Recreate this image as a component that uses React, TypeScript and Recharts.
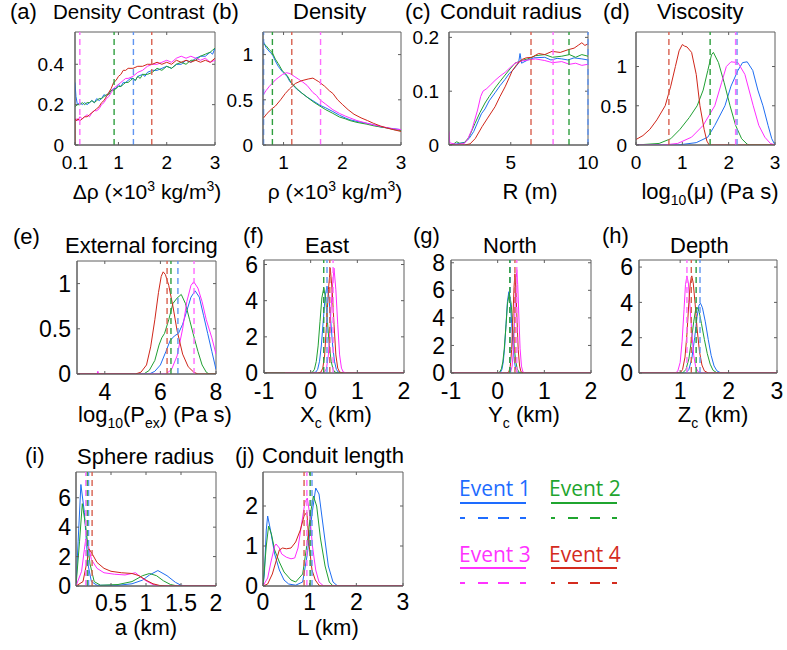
import React from 'react';
import { LineChart, Line, XAxis, YAxis, ReferenceLine, ReferenceArea } from 'recharts';

type Pt = [number, number];

// ---------- (a) Density contrast ----------
const densContrastBlue: Pt[] = [[0.1,0.31],[0.12,0.24],[0.15,0.2],[0.2,0.21],[0.25,0.2],[0.3,0.21],[0.35,0.2],[0.4,0.21],[0.45,0.22],[0.5,0.21],[0.55,0.23],[0.6,0.22],[0.65,0.23],[0.7,0.25],[0.75,0.24],[0.8,0.26],[0.85,0.27],[0.9,0.28],[0.95,0.28],[1.0,0.3],[1.05,0.29],[1.1,0.31],[1.15,0.31],[1.2,0.32],[1.25,0.33],[1.3,0.33],[1.35,0.32],[1.4,0.34],[1.5,0.35],[1.55,0.34],[1.6,0.36],[1.7,0.37],[1.8,0.37],[1.9,0.38],[2.0,0.39],[2.1,0.38],[2.2,0.4],[2.3,0.4],[2.4,0.42],[2.5,0.41],[2.6,0.43],[2.7,0.44],[2.8,0.44],[2.9,0.46],[2.95,0.45],[3.0,0.48]];
const densContrastGreen: Pt[] = [[0.1,0.19],[0.15,0.2],[0.2,0.2],[0.25,0.21],[0.3,0.2],[0.35,0.21],[0.4,0.21],[0.45,0.22],[0.5,0.21],[0.55,0.22],[0.6,0.23],[0.65,0.23],[0.7,0.24],[0.75,0.25],[0.8,0.25],[0.85,0.27],[0.9,0.27],[0.95,0.28],[1.0,0.29],[1.05,0.29],[1.1,0.3],[1.15,0.31],[1.2,0.31],[1.25,0.32],[1.3,0.33],[1.35,0.32],[1.4,0.34],[1.45,0.33],[1.5,0.35],[1.6,0.35],[1.7,0.36],[1.8,0.38],[1.9,0.37],[2.0,0.39],[2.1,0.38],[2.2,0.4],[2.3,0.41],[2.4,0.4],[2.5,0.42],[2.6,0.42],[2.7,0.44],[2.8,0.45],[2.9,0.46],[2.95,0.47],[3.0,0.48]];
const densContrastMagenta: Pt[] = [[0.1,0.12],[0.13,0.13],[0.16,0.12],[0.2,0.14],[0.25,0.13],[0.3,0.14],[0.35,0.15],[0.4,0.14],[0.45,0.16],[0.5,0.17],[0.55,0.17],[0.6,0.18],[0.65,0.2],[0.7,0.21],[0.75,0.23],[0.8,0.24],[0.85,0.26],[0.9,0.28],[0.95,0.29],[1.0,0.3],[1.05,0.31],[1.1,0.32],[1.15,0.33],[1.2,0.33],[1.3,0.34],[1.4,0.36],[1.5,0.37],[1.6,0.39],[1.7,0.4],[1.8,0.4],[1.9,0.41],[2.0,0.42],[2.1,0.41],[2.2,0.43],[2.3,0.44],[2.4,0.43],[2.5,0.44],[2.6,0.43],[2.7,0.42],[2.8,0.43],[2.9,0.41],[3.0,0.42]];
const densContrastRed: Pt[] = [[0.1,0.0],[0.1,0.13],[0.13,0.12],[0.16,0.13],[0.2,0.12],[0.25,0.13],[0.3,0.14],[0.35,0.14],[0.4,0.15],[0.45,0.16],[0.5,0.17],[0.55,0.18],[0.6,0.19],[0.65,0.21],[0.7,0.22],[0.75,0.24],[0.8,0.26],[0.85,0.28],[0.9,0.31],[0.95,0.32],[1.0,0.34],[1.05,0.35],[1.1,0.37],[1.15,0.37],[1.2,0.38],[1.3,0.38],[1.4,0.39],[1.5,0.39],[1.6,0.4],[1.7,0.4],[1.8,0.41],[1.9,0.4],[2.0,0.41],[2.1,0.4],[2.2,0.42],[2.3,0.41],[2.4,0.42],[2.5,0.41],[2.6,0.42],[2.7,0.41],[2.8,0.42],[2.9,0.41],[3.0,0.43]];
const densContrastRefs = [1.31, 0.91, 0.2, 1.69]; // blue, green, magenta, red

// ---------- (b) Density ----------
const densityBlue: Pt[] = [[0.66,1.14],[0.7,1.08],[0.75,1.04],[0.81,1.0],[0.86,0.93],[0.91,0.87],[0.98,0.81],[1.06,0.76],[1.1,0.71],[1.15,0.67],[1.22,0.62],[1.3,0.58],[1.4,0.53],[1.5,0.49],[1.62,0.44],[1.72,0.41],[1.84,0.37],[1.95,0.33],[2.05,0.3],[2.13,0.28],[2.25,0.26],[2.42,0.24],[2.55,0.22],[2.65,0.2],[2.75,0.19],[2.88,0.18],[3.0,0.17]];
const densityGreen: Pt[] = [[0.66,1.12],[0.7,1.1],[0.75,1.06],[0.81,1.02],[0.86,0.95],[0.91,0.9],[0.98,0.82],[1.06,0.77],[1.12,0.7],[1.2,0.64],[1.3,0.58],[1.4,0.53],[1.5,0.48],[1.62,0.43],[1.72,0.39],[1.84,0.35],[1.95,0.31],[2.05,0.29],[2.13,0.27],[2.25,0.25],[2.42,0.23],[2.55,0.21],[2.65,0.2],[2.75,0.19],[2.88,0.17],[3.0,0.16]];
const densityMagenta: Pt[] = [[0.66,0.56],[0.7,0.6],[0.76,0.65],[0.82,0.69],[0.86,0.72],[0.92,0.75],[0.98,0.78],[1.05,0.8],[1.11,0.79],[1.18,0.76],[1.25,0.73],[1.32,0.7],[1.4,0.66],[1.5,0.58],[1.56,0.55],[1.62,0.5],[1.72,0.45],[1.84,0.39],[1.95,0.35],[2.05,0.32],[2.13,0.3],[2.25,0.27],[2.42,0.24],[2.55,0.22],[2.7,0.2],[2.85,0.18],[3.0,0.17]];
const densityRed: Pt[] = [[0.66,0.3],[0.72,0.35],[0.8,0.4],[0.86,0.43],[0.95,0.5],[1.03,0.57],[1.1,0.62],[1.2,0.68],[1.3,0.71],[1.42,0.73],[1.5,0.74],[1.55,0.72],[1.6,0.7],[1.7,0.65],[1.78,0.6],[1.84,0.57],[1.92,0.5],[2.0,0.45],[2.1,0.39],[2.2,0.34],[2.32,0.3],[2.43,0.27],[2.53,0.24],[2.65,0.21],[2.75,0.19],[2.87,0.17],[3.0,0.15]];
const densityRefs = [0.66, 0.81, 1.63, 1.14];

// ---------- (c) Conduit radius ----------
const radiusBlue: Pt[] = [[1,0],[1.5,0.002],[2.0,0.005],[2.3,0.012],[2.6,0.025],[2.9,0.045],[3.1,0.058],[3.33,0.067],[3.6,0.082],[3.98,0.097],[4.3,0.11],[4.63,0.122],[4.9,0.133],[5.1,0.138],[5.3,0.145],[5.5,0.152],[5.6,0.17],[5.7,0.152],[6.1,0.158],[6.5,0.162],[7.2,0.163],[7.6,0.158],[8.0,0.161],[8.3,0.16],[8.7,0.158],[9.1,0.162],[9.6,0.16],[10,0.158]];
const radiusGreen: Pt[] = [[1,0],[1.3,0.002],[1.5,0.006],[1.7,0.003],[2.0,0.004],[2.3,0.015],[2.68,0.04],[3.0,0.06],[3.33,0.078],[3.6,0.09],[3.98,0.106],[4.3,0.118],[4.63,0.13],[5.0,0.143],[5.27,0.152],[5.7,0.157],[6.1,0.16],[6.6,0.166],[7.2,0.168],[7.7,0.163],[8.3,0.165],[8.8,0.168],[9.2,0.163],[9.6,0.168],[10,0.165]];
const radiusMagenta: Pt[] = [[1,0.025],[1.05,0.004],[1.5,0.001],[2.0,0.003],[2.2,0.01],[2.5,0.03],[2.85,0.065],[3.05,0.09],[3.2,0.1],[3.45,0.105],[3.7,0.112],[3.98,0.12],[4.3,0.128],[4.63,0.135],[5.0,0.145],[5.27,0.152],[5.7,0.156],[6.1,0.158],[6.6,0.16],[7.2,0.157],[7.7,0.153],[8.3,0.155],[8.8,0.15],[9.2,0.152],[9.6,0.148],[10,0.15]];
const radiusRed: Pt[] = [[1,0],[2.0,0],[2.36,0.002],[2.7,0.012],[3.14,0.034],[3.5,0.05],[3.98,0.071],[4.3,0.09],[4.63,0.108],[4.9,0.125],[5.08,0.137],[5.4,0.15],[5.73,0.159],[6.0,0.162],[6.37,0.163],[6.8,0.17],[7.2,0.168],[7.67,0.174],[8.2,0.172],[8.7,0.177],[9.1,0.18],[9.4,0.186],[9.6,0.19],[9.8,0.185],[10,0.188]];
const radiusRefs = [10, 8.77, 7.74, 6.31];

// ---------- (d) Viscosity ----------
const viscBlue: Pt[] = [[0,0],[0.9,0],[1.3,0.03],[1.55,0.1],[1.7,0.25],[1.92,0.5],[2.05,0.75],[2.2,0.95],[2.3,1.05],[2.4,1.06],[2.52,0.95],[2.63,0.7],[2.74,0.5],[2.85,0.25],[2.93,0.08],[3,0]];
const viscGreen: Pt[] = [[0,0],[0.5,0.02],[0.75,0.08],[0.95,0.2],[1.15,0.35],[1.32,0.5],[1.45,0.7],[1.55,0.95],[1.63,1.15],[1.67,1.18],[1.78,1.05],[1.9,0.8],[2.03,0.5],[2.15,0.25],[2.28,0.08],[2.4,0.01],[2.45,0],[3,0]];
const viscMagenta: Pt[] = [[0,0],[0.6,0],[0.9,0.02],[1.2,0.1],[1.45,0.25],[1.7,0.5],[1.85,0.8],[1.95,1.0],[2.05,1.06],[2.2,1.05],[2.35,0.9],[2.53,0.5],[2.65,0.25],[2.78,0.1],[2.9,0.02],[3,0]];
const viscRed: Pt[] = [[0,0.07],[0.15,0.12],[0.3,0.2],[0.45,0.32],[0.63,0.5],[0.75,0.75],[0.85,1.0],[0.93,1.2],[1.0,1.28],[1.05,1.26],[1.1,1.25],[1.2,1.18],[1.3,0.9],[1.38,0.5],[1.47,0.2],[1.53,0.05],[1.58,0],[3,0]];
const viscRefs = [2.18, 1.6, 2.15, 0.71];

// ---------- (e) External forcing ----------
const forceBlue: Pt[] = [[3,0],[5.6,0],[5.8,0.03],[6.0,0.1],[6.2,0.25],[6.35,0.37],[6.5,0.42],[6.65,0.45],[6.8,0.55],[6.95,0.7],[7.1,0.85],[7.25,0.92],[7.4,0.85],[7.55,0.65],[7.7,0.45],[7.85,0.25],[8,0.05]];
const forceGreen: Pt[] = [[3,0],[5.4,0],[5.6,0.04],[5.8,0.15],[5.95,0.32],[6.05,0.4],[6.15,0.45],[6.3,0.6],[6.45,0.78],[6.6,0.84],[6.75,0.88],[6.9,0.78],[7.05,0.6],[7.2,0.42],[7.35,0.25],[7.5,0.1],[7.65,0.02],[7.75,0],[8,0]];
const forceMagenta: Pt[] = [[3,0],[3.72,0],[3.75,0.03],[3.78,0],[6.2,0],[6.4,0.05],[6.6,0.2],[6.8,0.5],[6.95,0.8],[7.1,0.98],[7.2,1.02],[7.35,0.95],[7.5,0.8],[7.65,0.6],[7.85,0.4],[8,0.22]];
const forceRed: Pt[] = [[3,0],[5.1,0],[5.3,0.02],[5.5,0.1],[5.65,0.3],[5.8,0.6],[5.93,0.9],[6.03,1.08],[6.1,1.13],[6.18,1.1],[6.3,0.98],[6.45,0.75],[6.6,0.48],[6.8,0.22],[7.0,0.08],[7.2,0.02],[7.35,0],[8,0]];
const forceRefs = [6.63, 6.38, 7.21, 6.24];

// ---------- (f) East ----------
const eastBlue: Pt[] = [[-1,0],[0.02,0],[0.11,0.05],[0.15,0.2],[0.19,0.65],[0.23,1.55],[0.27,2.9],[0.31,4.25],[0.35,4.8],[0.39,4.25],[0.43,2.9],[0.47,1.55],[0.51,0.65],[0.55,0.2],[0.59,0.05],[0.67,0],[2,0]];
const eastGreen: Pt[] = [[-1,0],[-0.05,0],[0.04,0.05],[0.08,0.2],[0.12,0.64],[0.16,1.5],[0.2,2.85],[0.24,4.15],[0.28,4.7],[0.32,4.15],[0.36,2.85],[0.4,1.5],[0.44,0.64],[0.48,0.2],[0.52,0.05],[0.6,0],[2,0]];
const eastMagenta: Pt[] = [[-0.55,0],[0.23,0],[0.3,0.05],[0.34,0.27],[0.38,1.0],[0.42,2.7],[0.46,4.6],[0.5,5.8],[0.54,4.6],[0.58,2.7],[0.62,1.0],[0.66,0.27],[0.7,0.05],[0.78,0],[2,0]];
const eastRed: Pt[] = [[-1,0],[0.15,0],[0.22,0.05],[0.26,0.27],[0.3,1.0],[0.34,2.7],[0.38,4.6],[0.42,5.8],[0.46,4.6],[0.5,2.7],[0.54,1.0],[0.58,0.27],[0.62,0.05],[0.7,0],[2,0]];
const eastRefs = [0.35, 0.28, 0.48, 0.41];

// ---------- (g) North ----------
const northBlue: Pt[] = [[-1,0],[0.0,0],[0.06,0.06],[0.09,0.25],[0.12,0.8],[0.15,1.9],[0.18,3.6],[0.21,5.2],[0.24,5.9],[0.27,5.2],[0.3,3.6],[0.33,1.9],[0.36,0.8],[0.39,0.25],[0.42,0.06],[0.48,0],[2,0]];
const northGreen: Pt[] = [[-1,0],[0.0,0],[0.04,0.05],[0.08,0.3],[0.11,0.8],[0.14,1.7],[0.18,3.5],[0.21,5.0],[0.25,5.8],[0.29,5.0],[0.32,3.6],[0.36,1.7],[0.39,0.8],[0.42,0.3],[0.46,0.05],[0.52,0],[2,0]];
const northMagenta: Pt[] = [[-1,0],[0.24,0],[0.28,0.08],[0.31,0.5],[0.34,1.8],[0.37,4.5],[0.39,6.4],[0.41,7.5],[0.43,6.4],[0.45,4.5],[0.48,1.8],[0.51,0.5],[0.54,0.08],[0.59,0],[2,0]];
const northRed: Pt[] = [[-1,0],[0.2,0],[0.24,0.08],[0.27,0.5],[0.3,1.7],[0.33,4.3],[0.35,6.2],[0.37,7.2],[0.39,6.2],[0.41,4.3],[0.44,1.7],[0.47,0.5],[0.5,0.08],[0.55,0],[2,0]];
const northRefs = [0.27, 0.26, 0.41, 0.37];

// ---------- (h) Depth ----------
const depthBlue: Pt[] = [[0.15,0],[1.12,0],[1.18,0.2],[1.24,0.8],[1.3,2.0],[1.35,3.2],[1.39,3.85],[1.42,3.95],[1.46,3.7],[1.52,2.9],[1.58,1.9],[1.64,1.0],[1.7,0.4],[1.76,0.12],[1.83,0.02],[1.9,0],[3,0]];
const depthGreen: Pt[] = [[0.15,0],[1.05,0],[1.12,0.2],[1.18,0.8],[1.23,1.8],[1.28,2.9],[1.32,3.6],[1.35,3.72],[1.39,3.5],[1.44,2.8],[1.5,1.9],[1.56,1.1],[1.62,0.5],[1.68,0.15],[1.75,0.03],[1.85,0],[3,0]];
const depthMagenta: Pt[] = [[0.15,0],[0.9,0],[0.95,0.1],[1.0,0.6],[1.04,1.8],[1.08,3.6],[1.11,5.0],[1.14,5.5],[1.17,5.1],[1.2,3.9],[1.24,2.3],[1.28,1.0],[1.32,0.35],[1.37,0.08],[1.45,0],[3,0]];
const depthRed: Pt[] = [[0.15,0],[1.0,0],[1.05,0.2],[1.1,0.9],[1.14,2.2],[1.18,4.0],[1.21,5.1],[1.24,5.5],[1.27,5.1],[1.31,3.9],[1.35,2.5],[1.4,1.2],[1.45,0.45],[1.5,0.12],[1.58,0],[3,0]];
const depthRefs = [1.41, 1.33, 1.14, 1.23];

// ---------- (i) Sphere radius ----------
const sphereBlue: Pt[] = [[0,0],[0.03,3.0],[0.07,6.9],[0.12,5.0],[0.17,1.5],[0.22,0.3],[0.3,0.05],[0.6,0.05],[0.8,0.15],[0.95,0.4],[1.05,0.75],[1.17,1.05],[1.3,0.7],[1.42,0.25],[1.5,0.05],[1.6,0],[2,0]];
const sphereGreen: Pt[] = [[0,0],[0.05,3.0],[0.09,5.6],[0.14,4.0],[0.2,1.5],[0.26,0.3],[0.35,0.05],[0.6,0.1],[0.8,0.3],[0.95,0.7],[1.05,0.85],[1.15,0.7],[1.25,0.35],[1.35,0.1],[1.45,0],[2,0]];
const sphereMagenta: Pt[] = [[0,0],[0.08,1.0],[0.12,2.5],[0.14,3.2],[0.18,2.7],[0.22,1.8],[0.3,1.2],[0.4,0.9],[0.55,0.8],[0.7,0.75],[0.8,0.85],[0.85,0.9],[0.9,0.7],[1.0,0.35],[1.1,0.1],[1.2,0],[2,0]];
const sphereRed: Pt[] = [[0,0],[0.1,0.3],[0.15,1.5],[0.19,2.5],[0.23,2.2],[0.3,1.6],[0.4,1.2],[0.5,1.0],[0.65,0.9],[0.8,0.85],[0.9,0.7],[1.0,0.4],[1.1,0.15],[1.2,0.03],[1.3,0],[2,0]];
const sphereRefs = [0.18, 0.16, 0.14, 0.23];

// ---------- (j) Conduit length ----------
const lengthBlue: Pt[] = [[0,0],[0.03,0.3],[0.07,1.4],[0.1,1.75],[0.16,1.4],[0.25,0.8],[0.35,0.4],[0.45,0.15],[0.55,0.05],[0.7,0.02],[0.85,0.1],[0.95,0.8],[1.05,1.8],[1.13,2.45],[1.2,2.3],[1.3,1.4],[1.4,0.5],[1.5,0.1],[1.6,0],[3,0]];
const lengthGreen: Pt[] = [[0,0],[0.07,1.0],[0.12,1.5],[0.18,1.3],[0.25,0.9],[0.35,0.6],[0.45,0.35],[0.6,0.15],[0.7,0.1],[0.85,0.3],[0.95,1.1],[1.03,1.9],[1.08,2.25],[1.15,2.0],[1.23,1.2],[1.33,0.5],[1.42,0.1],[1.5,0],[3,0]];
const lengthMagenta: Pt[] = [[0,0],[0.1,0.2],[0.17,0.6],[0.25,1.0],[0.28,1.05],[0.35,0.95],[0.4,0.8],[0.5,0.72],[0.6,0.68],[0.68,0.7],[0.75,0.95],[0.82,1.5],[0.9,2.1],[0.95,2.2],[1.0,1.8],[1.06,1.0],[1.13,0.4],[1.2,0.1],[1.3,0],[3,0]];
const lengthRed: Pt[] = [[0,0],[0.1,0.05],[0.2,0.3],[0.3,0.7],[0.35,0.9],[0.42,0.95],[0.5,0.93],[0.6,0.95],[0.7,1.1],[0.8,1.4],[0.88,1.75],[0.94,1.85],[0.99,1.0],[1.05,0.4],[1.12,0.15],[1.2,0.02],[1.25,0],[3,0]];
const lengthRefs = [1.05, 1.01, 0.94, 0.88];

const eventNames = ['Event 1', 'Event 2', 'Event 3', 'Event 4'];

const LINE_COLORS = ['#1f6ef2', '#20a032', '#ff2cff', '#d0261a'];
const REF_COLORS = ['#5f95f2', '#2e9e3e', '#ff6aff', '#d8604f'];
const AXIS = '#5e5e5e';
const FONT = '"Liberation Sans", Arial, Helvetica, sans-serif';
const TICK_PX = 3;

interface PanelDef {
  left: number; top: number; w: number; h: number;
  xDomain: [number, number]; yDomain: [number, number];
  xTicks: number[]; yTicks: number[];
  series: Pt[][]; refs: number[];
  fs: number; xm: number; ym: number;
}

const YW = 70, XH = 40, MT = 14, MR = 18;

function Panel({ p }: { p: PanelDef }) {
  const tickStyle = { fill: '#000', fontSize: p.fs, fontFamily: FONT };
  const pts = (s: Pt[]) => s.map(([x, y]) => ({ x, y }));
  const [x0, x1] = p.xDomain;
  const [y0, y1] = p.yDomain;
  const dyTick = (TICK_PX * (y1 - y0)) / p.h;
  const dxTick = (TICK_PX * (x1 - x0)) / p.w;
  const innerX = p.xTicks.filter((t) => t > x0 && t < x1);
  const innerY = p.yTicks.filter((t) => t > y0 && t < y1);
  return (
    <div style={{ position: 'absolute', left: p.left - YW, top: p.top - MT }}>
      <LineChart width={YW + p.w + MR} height={MT + p.h + XH} margin={{ top: MT, right: MR, bottom: 0, left: 0 }}>
        <XAxis type="number" dataKey="x" domain={p.xDomain} ticks={p.xTicks} allowDataOverflow interval={0}
          height={XH} tickSize={-TICK_PX} tickMargin={p.xm} axisLine={{ stroke: AXIS }} tickLine={{ stroke: AXIS }} tick={tickStyle} />
        <YAxis type="number" dataKey="y" domain={p.yDomain} ticks={p.yTicks} allowDataOverflow interval={0}
          width={YW} tickSize={-TICK_PX} tickMargin={p.ym} axisLine={{ stroke: AXIS }} tickLine={{ stroke: AXIS }} tick={tickStyle} />
        <ReferenceArea x1={x0} x2={x1} y1={y0} y2={y1}
          fill="none" fillOpacity={0} stroke={AXIS} strokeWidth={1} ifOverflow="visible" />
        {innerX.map((t) => (
          <ReferenceLine key={'tt' + t} segment={[{ x: t, y: y1 }, { x: t, y: y1 - dyTick }]} stroke={AXIS} strokeWidth={1} ifOverflow="visible" />
        ))}
        {innerY.map((t) => (
          <ReferenceLine key={'rt' + t} segment={[{ x: x1, y: t }, { x: x1 - dxTick, y: t }]} stroke={AXIS} strokeWidth={1} ifOverflow="visible" />
        ))}
        {p.series.map((s, i) => (
          <Line key={'l' + i} data={pts(s)} dataKey="y" type="linear" dot={false}
            stroke={LINE_COLORS[i]} strokeWidth={1} isAnimationActive={false} />
        ))}
        {p.refs.map((v, i) => (
          <ReferenceLine key={'r' + i} x={v} stroke={REF_COLORS[i]} strokeWidth={1.4} strokeDasharray="6 4" ifOverflow="visible" />
        ))}
      </LineChart>
    </div>
  );
}

const panels: PanelDef[] = [
  { left: 75, top: 32, w: 140, h: 113, xDomain: [0.1, 3], yDomain: [0, 0.56], xTicks: [0.1, 1, 2, 3], yTicks: [0, 0.2, 0.4],
    series: [densContrastBlue, densContrastGreen, densContrastMagenta, densContrastRed], refs: densContrastRefs, fs: 19, xm: 14, ym: 14 },
  { left: 263, top: 32, w: 138, h: 113, xDomain: [0.65, 3], yDomain: [0, 1.25], xTicks: [1, 2, 3], yTicks: [0, 0.5, 1],
    series: [densityBlue, densityGreen, densityMagenta, densityRed], refs: densityRefs, fs: 19, xm: 14, ym: 13 },
  { left: 449, top: 32, w: 139, h: 113, xDomain: [1, 10], yDomain: [0, 0.21], xTicks: [5, 10], yTicks: [0, 0.1, 0.2],
    series: [radiusBlue, radiusGreen, radiusMagenta, radiusRed], refs: radiusRefs, fs: 19, xm: 14, ym: 13 },
  { left: 636, top: 32, w: 139, h: 113, xDomain: [0, 3], yDomain: [0, 1.44], xTicks: [0, 1, 2, 3], yTicks: [0, 0.5, 1],
    series: [viscBlue, viscGreen, viscMagenta, viscRed], refs: viscRefs, fs: 19, xm: 14, ym: 12 },
  { left: 77, top: 261, w: 139, h: 113, xDomain: [3, 8], yDomain: [0, 1.25], xTicks: [4, 6, 8], yTicks: [0, 0.5, 1],
    series: [forceBlue, forceGreen, forceMagenta, forceRed], refs: forceRefs, fs: 23, xm: 13, ym: 9 },
  { left: 264, top: 260, w: 140, h: 113, xDomain: [-1, 2], yDomain: [0, 6.25], xTicks: [-1, 0, 1, 2], yTicks: [0, 2, 4, 6],
    series: [eastBlue, eastGreen, eastMagenta, eastRed], refs: eastRefs, fs: 23, xm: 13, ym: 9 },
  { left: 451, top: 260, w: 140, h: 113, xDomain: [-1, 2], yDomain: [0, 8.2], xTicks: [-1, 0, 1, 2], yTicks: [0, 2, 4, 6, 8],
    series: [northBlue, northGreen, northMagenta, northRed], refs: northRefs, fs: 23, xm: 13, ym: 9 },
  { left: 639, top: 260, w: 138, h: 113, xDomain: [0.15, 3], yDomain: [0, 6.4], xTicks: [1, 2, 3], yTicks: [0, 2, 4, 6],
    series: [depthBlue, depthGreen, depthMagenta, depthRed], refs: depthRefs, fs: 23, xm: 13, ym: 9 },
  { left: 76, top: 472, w: 140, h: 114, xDomain: [0, 2], yDomain: [0, 7.75], xTicks: [0.5, 1, 1.5, 2], yTicks: [0, 2, 4, 6],
    series: [sphereBlue, sphereGreen, sphereMagenta, sphereRed], refs: sphereRefs, fs: 23, xm: 12, ym: 8 },
  { left: 263, top: 472, w: 140, h: 114, xDomain: [0, 3], yDomain: [0, 2.85], xTicks: [0, 1, 2, 3], yTicks: [0, 1, 2],
    series: [lengthBlue, lengthGreen, lengthMagenta, lengthRed], refs: lengthRefs, fs: 23, xm: 11, ym: 8 },
];

const titles: { label: string; lx: number; title: string; tx: number; y: number; ly: number; size: number }[] = [
  { label: '(a)', lx: 10, title: 'Density Contrast', tx: 53, y: 19, ly: 19, size: 20.5 },
  { label: '(b)', lx: 212, title: 'Density', tx: 293, y: 19, ly: 19, size: 22 },
  { label: '(c)', lx: 405, title: 'Conduit radius', tx: 440, y: 19, ly: 19, size: 22 },
  { label: '(d)', lx: 603, title: 'Viscosity', tx: 657, y: 19, ly: 19, size: 22 },
  { label: '(e)', lx: 13, title: 'External forcing', tx: 65, y: 253, ly: 244, size: 22 },
  { label: '(f)', lx: 243, title: 'East', tx: 305, y: 253, ly: 243, size: 22 },
  { label: '(g)', lx: 413, title: 'North', tx: 483, y: 253, ly: 243, size: 22 },
  { label: '(h)', lx: 602, title: 'Depth', tx: 670, y: 253, ly: 243, size: 22 },
  { label: '(i)', lx: 25, title: 'Sphere radius', tx: 77, y: 464, ly: 463, size: 22 },
  { label: '(j)', lx: 235, title: 'Conduit length', tx: 262, y: 463, ly: 463, size: 22 },
];

const legendPos = [
  { tx: 459, ty: 496, lx1: 460, lx2: 526, ly: 503, dy: 518, dash: '5 13 10 10 11 11 6 40' },
  { tx: 549, ty: 496, lx1: 551, lx2: 617, ly: 503, dy: 518, dash: '4 13 10 12 10 12 5 40' },
  { tx: 459, ty: 562, lx1: 460, lx2: 526, ly: 568, dy: 583, dash: '5 13 10 10 11 11 6 40' },
  { tx: 549, ty: 562, lx1: 551, lx2: 617, ly: 568, dy: 583, dash: '4 13 10 12 10 12 5 40' },
];

const LEG_COLORS = ['#1e6cff', '#1fa52f', '#ff33ff', '#d42b1e'];

function Sub({ children, d = 6, fs = 14 }: { children: React.ReactNode; d?: number; fs?: number }) {
  return <tspan dy={d} fontSize={fs}>{children}</tspan>;
}

export default function App() {
  return (
    <div style={{ position: 'absolute', left: 0, top: 0, width: 787, height: 650, background: '#fff', fontFamily: FONT, overflow: 'hidden' }}>
      {panels.map((p, i) => <Panel key={i} p={p} />)}
      <svg width={787} height={650} style={{ position: 'absolute', left: 0, top: 0, pointerEvents: 'none' }} fontFamily={FONT}>
        {titles.map((t, i) => (
          <g key={i}>
            <text x={t.lx} y={t.ly} fontSize={22} fill="#000">{t.label}</text>
            <text x={t.tx} y={t.y} fontSize={t.size} fill="#000">{t.title}</text>
          </g>
        ))}
        {/* x-axis labels row 1 */}
        <text x={147} y={199} fontSize={21} textAnchor="middle">Δρ (×10<tspan dy={-8} fontSize={14}>3</tspan><tspan dy={8}> kg/m</tspan><tspan dy={-8} fontSize={14}>3</tspan><tspan dy={8}>)</tspan></text>
        <text x={335} y={199} fontSize={21} textAnchor="middle">ρ (×10<tspan dy={-8} fontSize={14}>3</tspan><tspan dy={8}> kg/m</tspan><tspan dy={-8} fontSize={14}>3</tspan><tspan dy={8}>)</tspan></text>
        <text x={530} y={199} fontSize={22} textAnchor="middle">R (m)</text>
        <text x={710} y={199} fontSize={22} textAnchor="middle">log<Sub>10</Sub><tspan dy={-6}>(μ) (Pa s)</tspan></text>
        {/* row 2 */}
        <text x={155} y={422} fontSize={22} textAnchor="middle">log<Sub>10</Sub><tspan dy={-6}>(P</tspan><Sub>ex</Sub><tspan dy={-6}>) (Pa s)</tspan></text>
        <text x={336} y={422} fontSize={22} textAnchor="middle">X<Sub>c</Sub><tspan dy={-6}> (km)</tspan></text>
        <text x={524} y={422} fontSize={22} textAnchor="middle">Y<Sub>c</Sub><tspan dy={-6}> (km)</tspan></text>
        <text x={713} y={422} fontSize={22} textAnchor="middle">Z<Sub>c</Sub><tspan dy={-6}> (km)</tspan></text>
        {/* row 3 */}
        <text x={146} y={635} fontSize={22} textAnchor="middle">a (km)</text>
        <text x={328} y={635} fontSize={22} textAnchor="middle">L (km)</text>
        {/* legend */}
        {legendPos.map((l, i) => (
          <g key={'lg' + i}>
            <text x={l.tx} y={l.ty} fontSize={21} fontFamily='"Open Sans", "Noto Sans", sans-serif' fill={LEG_COLORS[i]}>{eventNames[i]}</text>
            <line x1={l.lx1} x2={l.lx2} y1={l.ly} y2={l.ly} stroke={LEG_COLORS[i]} strokeWidth={2} />
            <line x1={l.lx1} x2={l.lx2} y1={l.dy} y2={l.dy} stroke={LEG_COLORS[i]} strokeWidth={2} strokeDasharray={l.dash} />
          </g>
        ))}
      </svg>
    </div>
  );
}
